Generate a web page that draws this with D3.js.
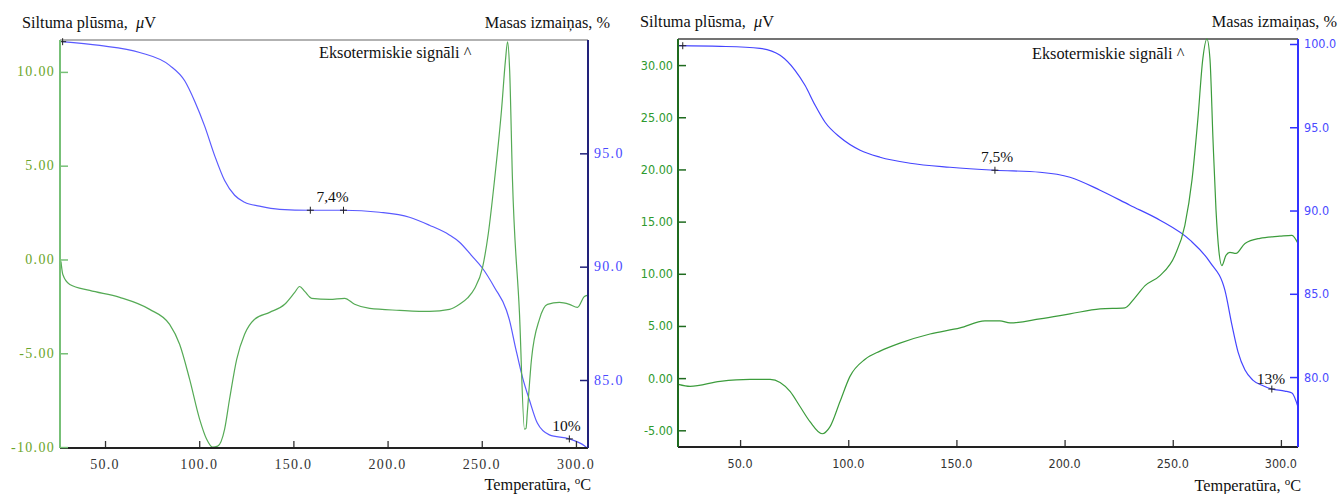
<!DOCTYPE html>
<html><head><meta charset="utf-8">
<script src="https://cdn.jsdelivr.net/npm/d3@7"></script>
<style>
body{margin:0;background:#fff;}
svg{display:block;}
.ser{font-family:"Liberation Serif","DejaVu Serif",serif;}
.san{font-family:"DejaVu Sans Condensed","DejaVu Sans",sans-serif;}
</style></head>
<body><svg id="c" width="1339" height="494"></svg>
<script>
// ---------- Tick values ----------
const xTicks = [50, 100, 150, 200, 250, 300];
const leftHeatTicks = [-10, -5, 0, 5, 10];
const leftMassTicks = [85, 90, 95];
const rightHeatTicks = [-5, 0, 5, 10, 15, 20, 25, 30];
const rightMassTicks = [80, 85, 90, 95, 100];

// ---------- Data: left chart ----------
const leftHeatT = [26.6,27.6,31.3,41.9,57.8,73.7,84.3,89.6,94.9,100.2,103.9,107.1,109.8,113.5,116.1,119.9,124.1,129.4,137.4,145.4,150.7,153.3,156,159.7,169.2,177.2,182.5,190.5,206.4,222.3,232.9,238.2,242.5,246.2,250.4,253.5,256.8,260.5,262.6,263.7,264.8,266.3,270,272.7,273.5,274.2,276.4,280.6,284.9,291.2,296.5,300.8,304.5,306];
const leftHeat  = [-0.1,-0.8,-1.33,-1.65,-2.02,-2.66,-3.46,-4.52,-6.38,-8.51,-9.57,-10.0,-9.95,-9.04,-7.45,-5.32,-3.99,-3.19,-2.82,-2.39,-1.76,-1.44,-1.70,-2.07,-2.13,-2.07,-2.39,-2.61,-2.71,-2.77,-2.66,-2.39,-2.05,-1.55,-0.43,1.4,4.26,7.98,10.64,11.6,10.1,4.26,-2.82,-9.04,-9.0,-8.14,-5.32,-3.19,-2.39,-2.29,-2.39,-2.55,-1.97,-1.91];

const leftMassT = [27,47.2,68.4,84.3,92.3,97.6,102.9,108.2,113.5,118.8,124.1,132,142.7,159,176.6,195.7,211.6,222.2,232.8,238.2,244.5,250.4,257,263.1,264.7,268,271.6,275.3,279.5,285.9,296.5,304.5,306];
const leftMass  = [99.93,99.76,99.45,98.88,98.2,97.3,96.2,94.9,93.8,93.15,92.84,92.67,92.53,92.49,92.49,92.4,92.18,91.83,91.4,91.08,90.5,89.93,89.05,88.08,87.64,86.4,85.13,84.12,83.1,82.58,82.4,82.1,82.0];

// ---------- Data: right chart ----------
const rightHeatT = [21.5,26.9,40.8,54.6,63.9,68.5,73.1,77.7,82.3,87.9,91.6,96.2,100.8,107.8,114.7,123.9,137.8,151.7,163.2,170.1,174.8,188.6,202.5,216.4,227.9,232.5,237.2,244.1,251,255.6,258.9,261.6,263.9,265.8,267.2,268.6,270,271.3,272.7,274.6,276.4,279.2,283.4,290.3,299.5,305.1,307.9];
const rightHeat  = [-0.6,-0.79,-0.31,-0.12,-0.12,-0.41,-1.27,-2.72,-4.17,-5.33,-4.65,-2.24,0.17,1.81,2.59,3.36,4.23,4.81,5.48,5.48,5.29,5.68,6.16,6.64,6.74,7.7,8.86,9.83,11.76,14.65,19.0,24.8,30.6,32.5,30.6,22.9,16.1,12.24,10.79,11.76,12.05,11.95,12.91,13.4,13.6,13.69,12.9];

const rightMassT = [21.5,40.8,59.2,68.5,75.4,80,84.7,89.3,96.2,105.5,114.7,128.6,147,167.8,188.6,202.5,216.4,230.2,244.1,258,267.2,274.1,277.4,280.2,283.4,287,292,295.8,301.8,305.1,307.9];
const rightMass  = [99.9,99.86,99.74,99.32,98.42,97.52,96.32,95.3,94.4,93.62,93.2,92.84,92.6,92.42,92.3,92.0,91.22,90.32,89.42,88.22,86.9,85.22,83.1,81.5,80.42,79.82,79.46,79.28,79.16,79.04,78.2];

// annotations: [temperature, label] and "+" marker temperatures
const leftNotes = [[170.8, "7,4%"], [295, "10%"]];
const rightNotes = [[168.8, "7,5%"], [295.4, "13%"]];
const leftMarks = [27.5, 159, 176.6, 296.5];
const rightMarks = [23.5, 167.8, 295.8];

const svg = d3.select("#c");

function drawChart(o){
  const g = svg.append("g");
  const x = d3.scaleLinear().domain(o.xDom).range([o.L, o.R]);
  const yH = d3.scaleLinear().domain(o.hDom).range([o.B, o.T]);
  const yM = d3.scaleLinear().domain(o.mDom).range([o.B, o.T]);

  g.append("line").attr("x1",o.L).attr("x2",o.R).attr("y1",o.T).attr("y2",o.T)
    .attr("stroke",o.topCol).attr("stroke-width",1.5);

  const massPts = o.massT.map((t,i)=>[t,o.mass[i]]);
  const heatPts = o.heatT.map((t,i)=>[t,o.heat[i]]);
  const lm = d3.line().x(d=>x(d[0])).y(d=>yM(d[1])).curve(d3.curveMonotoneX);
  const lh = d3.line().x(d=>x(d[0])).y(d=>yH(d[1])).curve(d3.curveMonotoneX);
  g.append("path").attr("d",lm(massPts)).attr("fill","none").attr("stroke",o.blueLine).attr("stroke-width",1.2);
  g.append("path").attr("d",lh(heatPts)).attr("fill","none").attr("stroke",o.greenLine).attr("stroke-width",1.2);

  const massAt = t => {
    const i = d3.bisector(d=>d[0]).left(massPts, t);
    if(i<=0) return massPts[0][1];
    const a = massPts[i-1], b = massPts[Math.min(i,massPts.length-1)];
    return a[1] + (b[1]-a[1])*(t-a[0])/((b[0]-a[0])||1);
  };
  o.marks.forEach(t=>{
    const px = x(t), py = yM(massAt(t));
    g.append("path").attr("d",`M${px-3.5},${py}H${px+3.5}M${px},${py-3.5}V${py+3.5}`)
      .attr("stroke","#222").attr("stroke-width",1);
  });
  o.notes.forEach((n,i)=>{
    g.append("text").attr("class","ser").attr("x",x(n[0])).attr("y",yM(massAt(n[0]))-o.noteDy[i])
      .attr("text-anchor","middle").attr("font-size",15.5).attr("fill","#111").text(n[1]);
  });

  // x axis
  const xa = g.append("g").attr("transform",`translate(0,${o.B})`)
    .call(d3.axisTop(x).tickValues(xTicks).tickSize(7).tickFormat(""));
  xa.select(".domain").remove();
  xa.selectAll("line").attr("stroke","#333").attr("stroke-width",1.3);
  g.append("line").attr("x1",o.L).attr("x2",o.R).attr("y1",o.B).attr("y2",o.B).attr("stroke","#222").attr("stroke-width",2);
  g.selectAll(null).data(xTicks).join("text").attr("class",o.tickCls)
    .attr("x",d=>x(d)).attr("y",o.B+21).attr("text-anchor","middle")
    .attr("font-size",o.tickFs).attr("letter-spacing",o.ls).attr("fill","#333").text(d=>d.toFixed(1));

  // left heat-flow axis
  const ya = g.append("g").attr("transform",`translate(${o.L},0)`)
    .call(d3.axisRight(yH).tickValues(o.hTicks).tickSize(8).tickFormat(""));
  ya.select(".domain").remove();
  ya.selectAll("line").attr("stroke",o.greenAxis).attr("stroke-width",1.5);
  g.append("line").attr("x1",o.L).attr("x2",o.L).attr("y1",o.T).attr("y2",o.B).attr("stroke",o.greenAxis).attr("stroke-width",2);
  g.selectAll(null).data(o.hTicks).join("text").attr("class",o.tickCls)
    .attr("x",o.L-5).attr("y",d=>yH(d)+4.5).attr("text-anchor","end")
    .attr("font-size",o.tickFs).attr("letter-spacing",o.ls).attr("fill",o.greenText).text(d=>d.toFixed(2));

  // right mass axis
  const ma = g.append("g").attr("transform",`translate(${o.R},0)`)
    .call(d3.axisLeft(yM).tickValues(o.mTicks).tickSize(8).tickFormat(""));
  ma.select(".domain").remove();
  ma.selectAll("line").attr("stroke",o.blueAxis).attr("stroke-width",1.5);
  g.append("line").attr("x1",o.R).attr("x2",o.R).attr("y1",o.T).attr("y2",o.B).attr("stroke",o.blueAxis).attr("stroke-width",2);
  g.selectAll(null).data(o.mTicks).join("text").attr("class",o.tickCls)
    .attr("x",o.R+6).attr("y",d=>yM(d)+4.5).attr("text-anchor","start")
    .attr("font-size",o.tickFs).attr("letter-spacing",o.ls).attr("fill","#4a4aff").text(d=>d.toFixed(1));

  // titles
  const fs = 16.3;
  const t1 = g.append("text").attr("class","ser").attr("x",o.titleX).attr("y",o.titleY).attr("font-size",fs).attr("fill","#111");
  t1.append("tspan").text("Siltuma plūsma,\u00A0 ");
  t1.append("tspan").attr("font-style","italic").text("μ");
  t1.append("tspan").text("V");
  g.append("text").attr("class","ser").attr("x",o.massTitleX).attr("y",o.titleY).attr("text-anchor","end")
    .attr("font-size",fs).attr("fill","#111").text("Masas izmaiņas, %");
  g.append("text").attr("class","ser").attr("x",o.exoX).attr("y",o.exoY)
    .attr("font-size",fs).attr("fill","#111").text("Eksotermiskie signāli ^");
  const tt = g.append("text").attr("class","ser").attr("x",o.tempX).attr("y",o.tempY).attr("text-anchor","end")
    .attr("font-size",fs).attr("fill","#111");
  tt.append("tspan").text("Temperatūra, ");
  tt.append("tspan").attr("font-size",11).attr("dy",-6).text("o");
  tt.append("tspan").attr("dy",6).text("C");
}

drawChart({
  L:60, R:588, T:40, B:448,
  xDom:[26.1,306.4], hDom:[-10.05,11.7], mDom:[82.0,100.0],
  heatT:leftHeatT, heat:leftHeat, massT:leftMassT, mass:leftMass,
  hTicks:leftHeatTicks, mTicks:leftMassTicks,
  notes:leftNotes, marks:leftMarks, noteDy:[8,7],
  topCol:"#999", greenLine:"#55aa55", blueLine:"#5a5aff", greenAxis:"#77c077", blueAxis:"#22227a",
  greenText:"#6aa52a", tickCls:"ser", tickFs:14, ls:1.3,
  titleX:22, titleY:28, massTitleX:610, exoX:319, exoY:58, tempX:591, tempY:490
});

drawChart({
  L:678, R:1298, T:39, B:447,
  xDom:[21.3,307.9], hDom:[-6.6,32.5], mDom:[75.8,100.3],
  heatT:rightHeatT, heat:rightHeat, massT:rightMassT, mass:rightMass,
  hTicks:rightHeatTicks, mTicks:rightMassTicks,
  notes:rightNotes, marks:rightMarks, noteDy:[8,5],
  topCol:"#444", greenLine:"#3c9c3c", blueLine:"#4545ff", greenAxis:"#1f6b1f", blueAxis:"#3333ff",
  greenText:"#2e9a2e", tickCls:"san", tickFs:12.5, ls:0,
  titleX:640, titleY:27, massTitleX:1337, exoX:1032, exoY:59, tempX:1301, tempY:491
});
</script></body></html>
